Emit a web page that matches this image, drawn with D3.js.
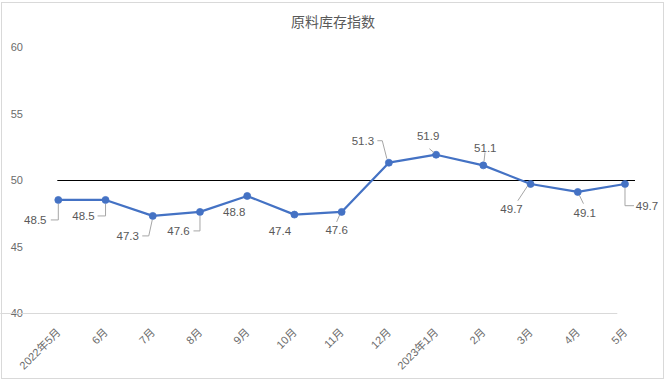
<!DOCTYPE html>
<html>
<head>
<meta charset="utf-8">
<script src="https://cdn.jsdelivr.net/npm/d3@7"></script>
<style>
  html, body { margin: 0; padding: 0; background: #fff; }
  svg { display: block; }
  text { font-family: "Liberation Sans", "Noto Sans CJK SC", sans-serif; }
</style>
</head>
<body>
<script>
// ---- data ----
const title = "原料库存指数";
const categories = ["2022年5月", "6月", "7月", "8月", "9月", "10月", "11月", "12月", "2023年1月", "2月", "3月", "4月", "5月"];
const values = [48.5, 48.5, 47.3, 47.6, 48.8, 47.4, 47.6, 51.3, 51.9, 51.1, 49.7, 49.1, 49.7];
const yTicks = [40, 45, 50, 55, 60];
const yDomain = [40, 60];
const referenceValue = 50;

// ---- layout (label placement, relative to each point) ----
const labelOffsets = [[-23, 20], [-22, 16], [-25, 20], [-21.5, 19], [-13, 16], [-14.5, 16], [-5, 18],
                      [-26, -22], [-8, -19], [2, -18], [-19, 25], [7, 21], [22, 22]];
const leaders = [
  [[0, 4], [0, 20], [-7.5, 20]],
  [[0, 4], [0, 16], [-8, 16]],
  [[-0.5, 4], [-4, 20], [-10.5, 20]],
  [[0, 4], [0, 19], [-6.5, 19]],
  null,
  null,
  [[-2, 3], [-5, 10]],
  [[-2, -4], [-6.6, -22], [-11.5, -22]],
  [[-2, -2], [-6.7, -6]],
  [[0.7, -4], [1.7, -13]],
  [[-3, 2], [-12.7, 16.7]],
  [[1.5, 3], [5.7, 11.7]],
  [[0, 4], [0, 21.7], [9, 21.7]]
];

const W = 668, H = 384;
const svg = d3.select("body").append("svg").attr("width", W).attr("height", H);

// outer border
svg.append("rect").attr("x", 1.5).attr("y", 2.5).attr("width", 662).attr("height", 376)
  .attr("fill", "#fff").attr("stroke", "#d9d9d9").attr("stroke-width", 1);

// title
svg.append("text").attr("x", 333).attr("y", 27).attr("text-anchor", "middle")
  .attr("font-size", 14).attr("fill", "#595959").text(title);

const x = d3.scaleBand().domain(categories).range([34.7, 648.6]).padding(0);
const y = d3.scaleLinear().domain(yDomain).range([313, 47]);
const cx = c => x(c) + x.bandwidth() / 2;

// y axis labels
const yAxis = d3.axisLeft(y).tickValues(yTicks).tickSize(0).tickPadding(0);
const gy = svg.append("g").attr("transform", "translate(23,0)").call(yAxis);
gy.select(".domain").remove();
gy.selectAll("text").attr("font-size", 11).attr("fill", "#6b6b6b")
  .attr("font-family", "Liberation Sans, Noto Sans CJK SC, sans-serif");

// x axis
const xAxis = d3.axisBottom(x).tickSize(0).tickSizeOuter(0).tickFormat(d => d);
const gx = svg.append("g").attr("transform", `translate(0,${y(yDomain[0])})`).call(xAxis);
gx.select(".domain").attr("stroke", "#d9d9d9").attr("d", `M0.3,0.5H617.3`);
gx.selectAll(".tick text")
  .attr("font-size", 11).attr("fill", "#6b6b6b")
  .attr("font-family", "Liberation Sans, Noto Sans CJK SC, sans-serif")
  .attr("text-anchor", "end").attr("dy", null).attr("y", null)
  .attr("transform", "translate(3,20) rotate(-45)");

// reference line at 50
svg.append("line")
  .attr("x1", cx(categories[0]) - 1).attr("x2", cx(categories[categories.length - 1]) + 10)
  .attr("y1", y(referenceValue) + 0.5).attr("y2", y(referenceValue) + 0.5)
  .attr("stroke", "#000").attr("stroke-width", 1);

// series line
const line = d3.line().x((d, i) => cx(categories[i])).y(d => y(d));
svg.append("path").datum(values).attr("d", line)
  .attr("fill", "none").attr("stroke", "#4472C4").attr("stroke-width", 2.25).attr("stroke-linejoin", "round");

// markers
svg.selectAll("circle.pt").data(values).enter().append("circle").attr("class", "pt")
  .attr("cx", (d, i) => cx(categories[i])).attr("cy", d => y(d)).attr("r", 3.5)
  .attr("fill", "#4472C4").attr("stroke", "#4472C4").attr("stroke-width", 0.75);

// leader lines
values.forEach((v, i) => {
  const L = leaders[i];
  if (!L) return;
  const px = cx(categories[i]), py = y(v);
  svg.append("polyline")
    .attr("points", L.map(p => `${px + p[0]},${py + p[1]}`).join(" "))
    .attr("fill", "none").attr("stroke", "#a6a6a6").attr("stroke-width", 1);
});

// data labels
svg.selectAll("text.lbl").data(values).enter().append("text").attr("class", "lbl")
  .attr("x", (d, i) => cx(categories[i]) + labelOffsets[i][0])
  .attr("y", (d, i) => y(d) + labelOffsets[i][1])
  .attr("dy", "0.36em").attr("text-anchor", "middle")
  .attr("font-size", 11.5).attr("fill", "#595959")
  .text(d => d.toFixed(1));
</script>
</body>
</html>
